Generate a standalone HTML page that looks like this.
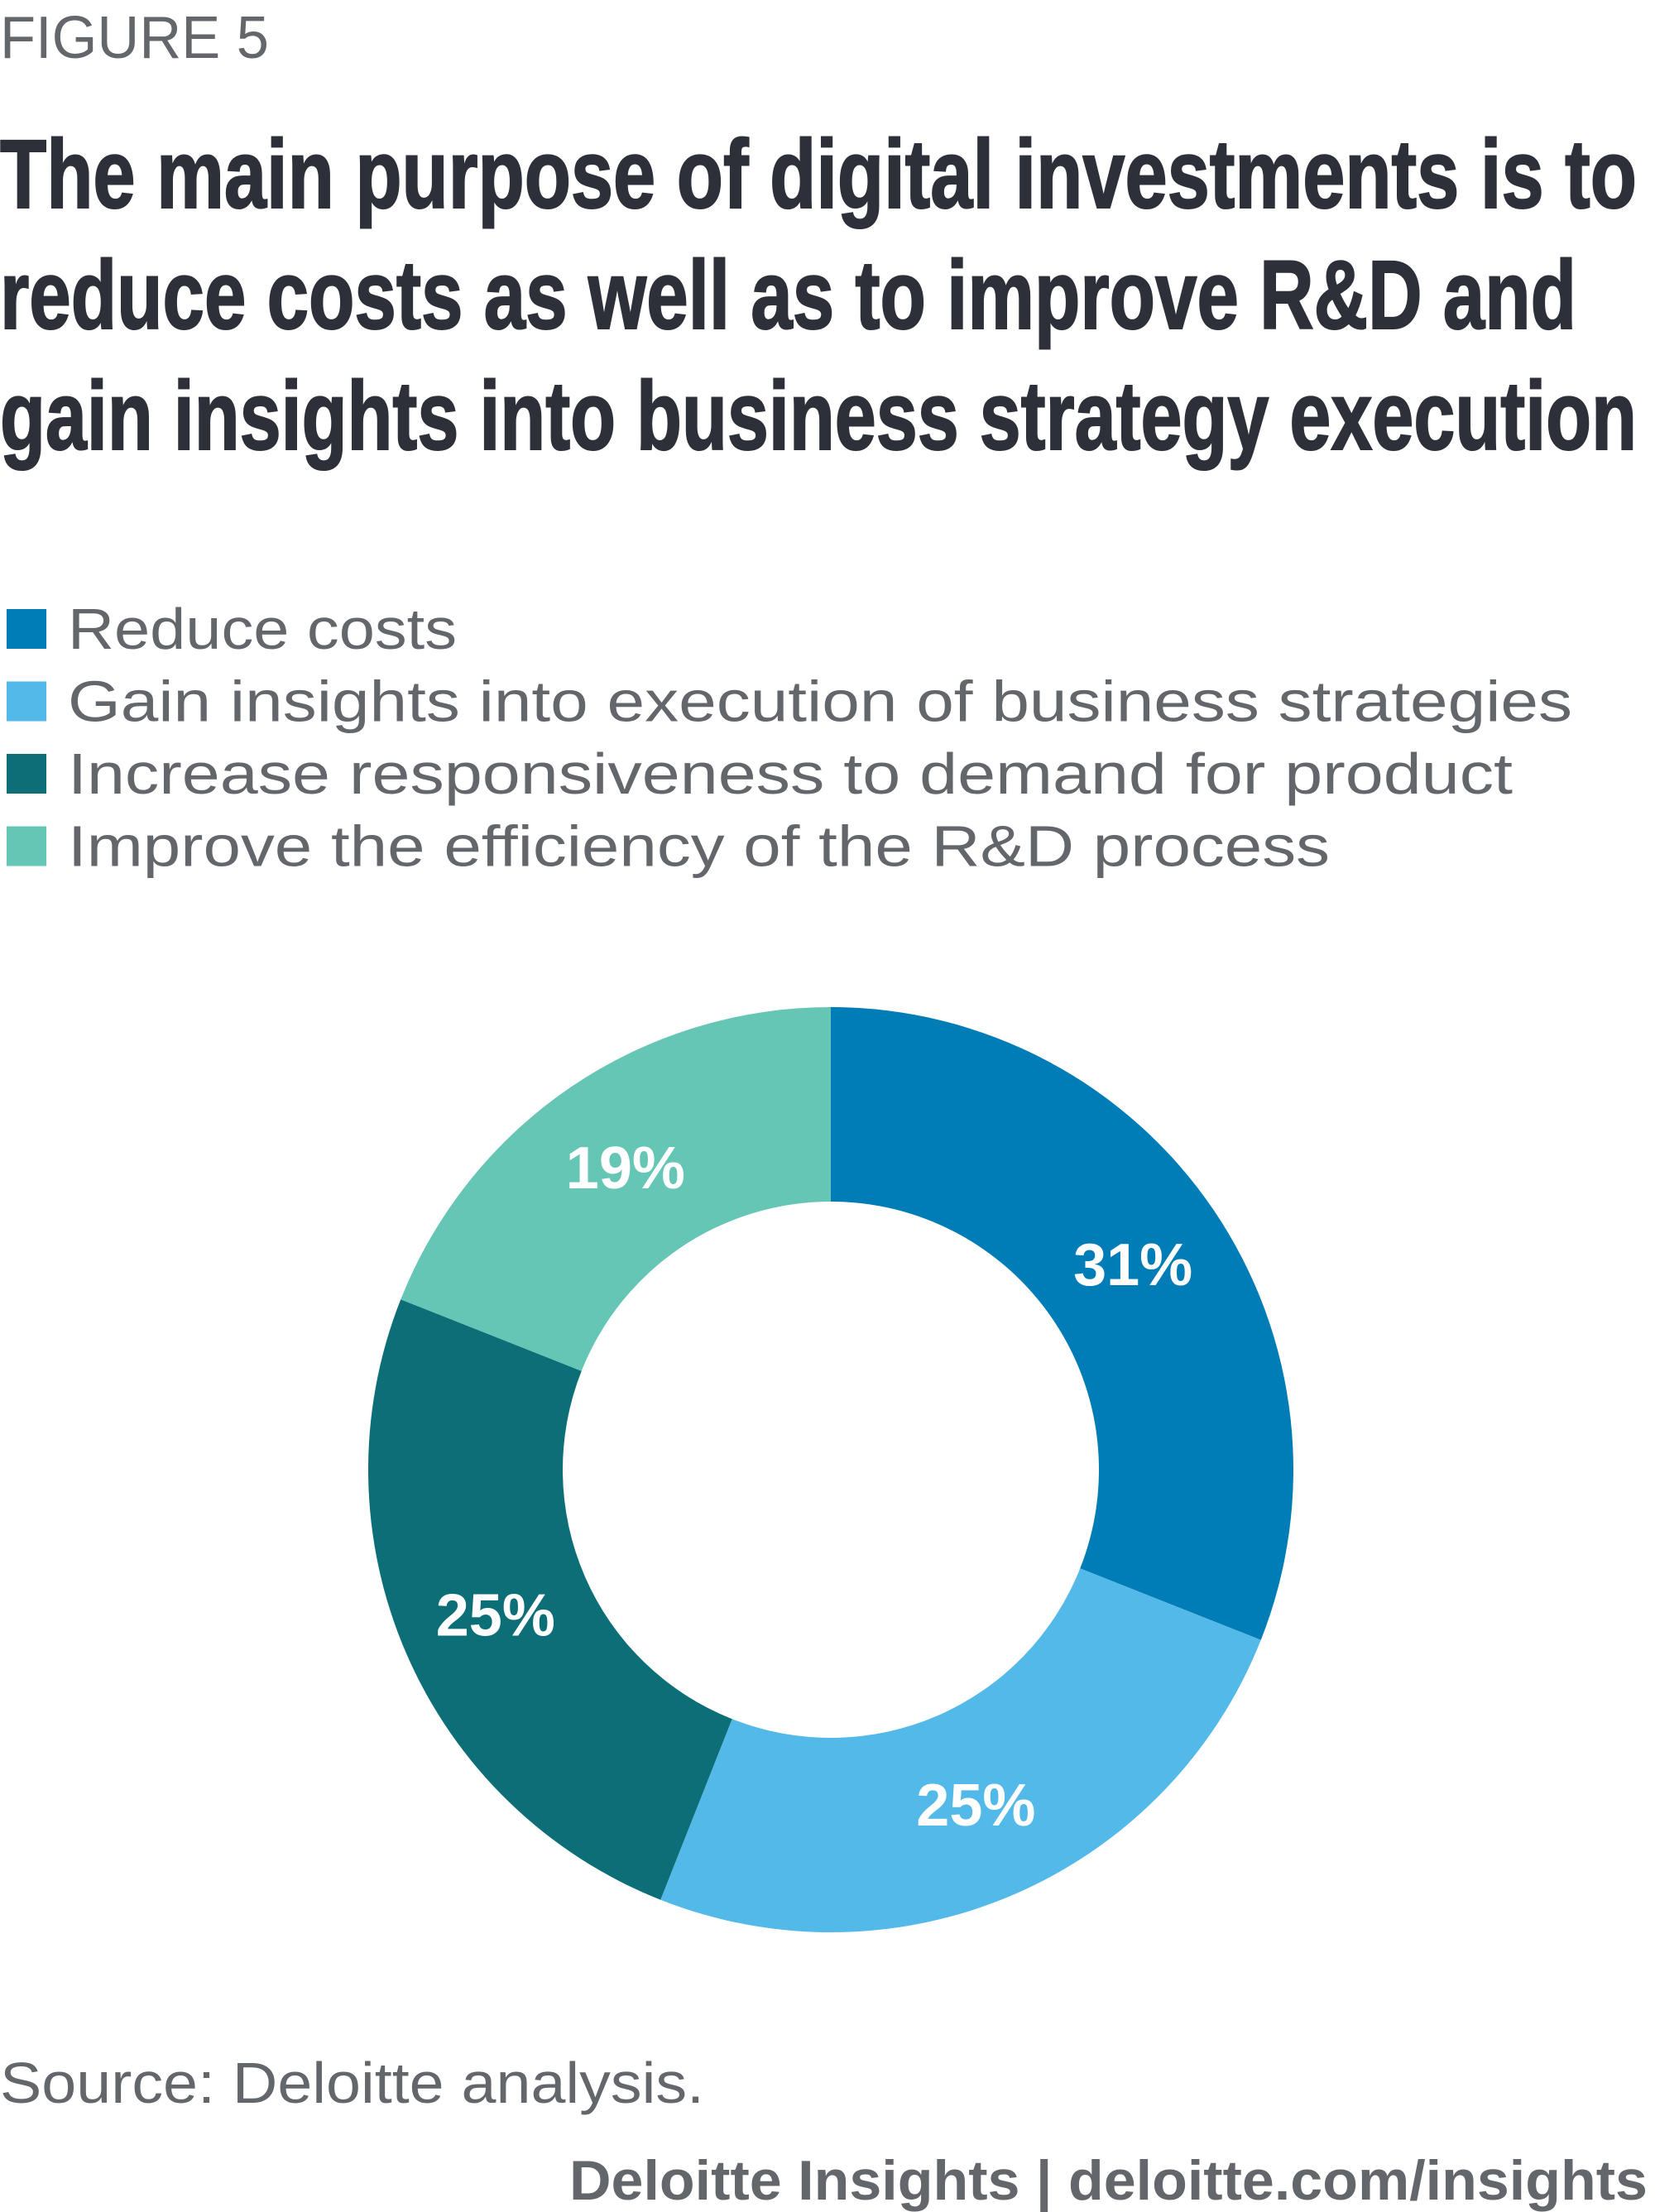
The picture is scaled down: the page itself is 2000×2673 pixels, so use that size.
<!DOCTYPE html>
<html><head><meta charset="utf-8"><style>
html,body{margin:0;padding:0;background:#fff;}
svg{display:block;}
text{font-family:"Liberation Sans",sans-serif;}
</style></head><body>
<svg id="chart" width="2000" height="2673" viewBox="0 0 2000 2673" xmlns="http://www.w3.org/2000/svg">
<text x="0" y="70" font-size="72" fill="#63666a" textLength="325" lengthAdjust="spacingAndGlyphs">FIGURE 5</text>
<g font-family="Liberation Sans Narrow, Liberation Sans, sans-serif" font-weight="bold" font-size="118" fill="#2d3039" stroke="#2d3039" stroke-width="2">
<text x="0" y="251" textLength="1978" lengthAdjust="spacingAndGlyphs">The main purpose of digital investments is to</text>
<text x="0" y="397" textLength="1905" lengthAdjust="spacingAndGlyphs">reduce costs as well as to improve R&amp;D and</text>
<text x="0" y="543" textLength="1978" lengthAdjust="spacingAndGlyphs">gain insights into business strategy execution</text>
</g>
<g id="legend"></g>
<g id="donut"></g>
<text x="0" y="2541" font-size="70" fill="#63666a" textLength="851" lengthAdjust="spacingAndGlyphs">Source: Deloitte analysis.</text>
<text x="1991" y="2658" font-size="68" font-weight="bold" fill="#63666a" text-anchor="end" textLength="1303" lengthAdjust="spacingAndGlyphs">Deloitte Insights | deloitte.com/insights</text>
</svg>
<script>
const categories = ["Reduce costs","Gain insights into execution of business strategies","Increase responsiveness to demand for product","Improve the efficiency of the R&D process"];
const values = [31,25,25,19];
const valueLabels = ["31%","25%","25%","19%"];
const colors = ["#007cb7","#53b9e9","#0c6f78","#65c6b6"];
const NS="http://www.w3.org/2000/svg";
const legend=document.getElementById('legend');
const legendWidths=[470,1818,1746,1525];
categories.forEach((c,i)=>{
  const y=784+i*87.5;
  const r=document.createElementNS(NS,'rect');
  r.setAttribute('x',8);r.setAttribute('y',y-48);r.setAttribute('width',48);r.setAttribute('height',48);r.setAttribute('fill',colors[i]);
  
  
  legend.appendChild(r);
  const t=document.createElementNS(NS,'text');
  t.setAttribute('x',82);t.setAttribute('y',y);t.setAttribute('font-size',70);t.setAttribute('fill','#63666a');
  t.setAttribute('textLength',legendWidths[i]);t.setAttribute('lengthAdjust','spacingAndGlyphs');
  t.textContent=c;
  
  
  legend.appendChild(t);
});
const cx=1004,cy=1776,R=559,r0=324;
const total=values.reduce((a,b)=>a+b,0);
const donut=document.getElementById('donut');
function pt(a,rad){return [cx+rad*Math.sin(a),cy-rad*Math.cos(a)];}
let acc=0;
values.forEach((v,i)=>{
  const a0=acc/total*2*Math.PI; acc+=v; const a1=acc/total*2*Math.PI;
  const large=(a1-a0)>Math.PI?1:0;
  const p1=pt(a0,R),p2=pt(a1,R),p3=pt(a1,r0),p4=pt(a0,r0);
  const p=document.createElementNS(NS,'path');
  p.setAttribute('d',`M${p1} A${R},${R} 0 ${large} 1 ${p2} L${p3} A${r0},${r0} 0 ${large} 0 ${p4} Z`);
  p.setAttribute('fill',colors[i]);
  
  
  donut.appendChild(p);
  const m=(a0+a1)/2, lp=pt(m,(R+r0)/2);
  const t=document.createElementNS(NS,'text');
  t.setAttribute('x',lp[0]);t.setAttribute('y',lp[1]+25);t.setAttribute('text-anchor','middle');
  t.setAttribute('font-size',72);t.setAttribute('font-weight','bold');t.setAttribute('fill','#fff');
  t.textContent=valueLabels[i];
  
  
  donut.appendChild(t);
});
</script>
</body></html>
